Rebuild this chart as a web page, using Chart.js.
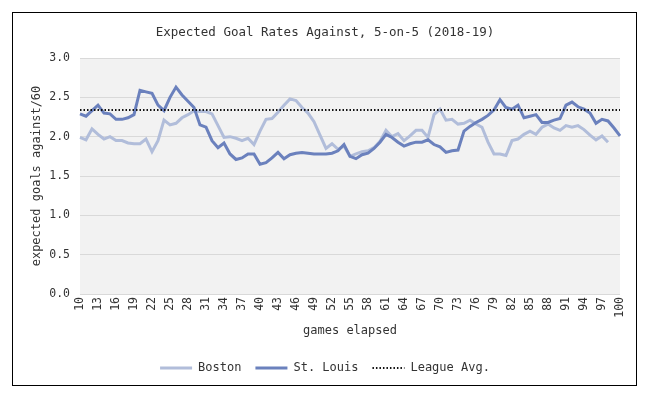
<!DOCTYPE html>
<html>
<head>
<meta charset="utf-8">
<title>Expected Goal Rates Against</title>
<script src="https://cdn.jsdelivr.net/npm/chart.js@4.4.1/dist/chart.umd.min.js"></script>
<style>
  html, body { margin: 0; padding: 0; background: #fff; }
  #wrap  { position: relative; width: 655px; height: 398px; }
  #frame { position: absolute; left: 12px; top: 12px; width: 623px; height: 372px;
           border: 1px solid #000; pointer-events: none; }
</style>
</head>
<body>
<div id="wrap">
  <canvas id="chartXga" width="655" height="398"></canvas>
  <div id="frame"></div>
</div>
<script>
/* ---- data ---- */
const games = [
  10, 11, 12, 13, 14, 15, 16, 17, 18, 19, 20, 21, 22, 23, 24, 25, 26, 27, 28, 29,
  30, 31, 32, 33, 34, 35, 36, 37, 38, 39, 40, 41, 42, 43, 44, 45, 46, 47, 48, 49,
  50, 51, 52, 53, 54, 55, 56, 57, 58, 59, 60, 61, 62, 63, 64, 65, 66, 67, 68, 69,
  70, 71, 72, 73, 74, 75, 76, 77, 78, 79, 80, 81, 82, 83, 84, 85, 86, 87, 88, 89,
  90, 91, 92, 93, 94, 95, 96, 97, 98, 99, 100
];

const xTickLabels = [10, 13, 16, 19, 22, 25, 28, 31, 34, 37, 40, 43, 46, 49, 52, 55,
  58, 61, 64, 67, 70, 73, 76, 79, 82, 85, 88, 91, 94, 97, 100];

// games 10..98
const boston = [
  1.99, 1.96, 2.10, 2.03, 1.97, 2.00, 1.95, 1.95, 1.92, 1.91,
  1.91, 1.97, 1.81, 1.95, 2.21, 2.15, 2.17, 2.24, 2.28, 2.33,
  2.32, 2.32, 2.29, 2.14, 1.99, 2.00, 1.98, 1.95, 1.98, 1.90,
  2.07, 2.22, 2.23, 2.31, 2.40, 2.48, 2.46, 2.37, 2.30, 2.19,
  2.02, 1.85, 1.91, 1.84, 1.88, 1.75, 1.78, 1.81, 1.82, 1.86,
  1.94, 2.08, 2.00, 2.04, 1.95, 2.01, 2.08, 2.08, 1.99, 2.28,
  2.35, 2.21, 2.22, 2.16, 2.17, 2.21, 2.16, 2.12, 1.93, 1.78,
  1.78, 1.76, 1.95, 1.97, 2.03, 2.07, 2.03, 2.12, 2.16, 2.11,
  2.08, 2.14, 2.12, 2.14, 2.09, 2.02, 1.96, 2.01, 1.93
];

// games 10..100
const stLouis = [
  2.29, 2.26, 2.33, 2.40, 2.30, 2.29, 2.22, 2.22, 2.24, 2.28,
  2.59, 2.57, 2.55, 2.40, 2.33, 2.50, 2.63, 2.53, 2.45, 2.37,
  2.15, 2.12, 1.95, 1.86, 1.92, 1.78, 1.71, 1.73, 1.78, 1.78,
  1.65, 1.67, 1.73, 1.80, 1.72, 1.77, 1.79, 1.80, 1.79, 1.78,
  1.78, 1.78, 1.79, 1.82, 1.90, 1.75, 1.72, 1.77, 1.79, 1.85,
  1.93, 2.03, 1.99, 1.93, 1.88, 1.91, 1.93, 1.93, 1.96, 1.90,
  1.87, 1.80, 1.82, 1.83, 2.07, 2.13, 2.18, 2.22, 2.27, 2.34,
  2.47, 2.37, 2.35, 2.40, 2.24, 2.26, 2.28, 2.18, 2.18, 2.21,
  2.23, 2.40, 2.44, 2.38, 2.35, 2.30, 2.17, 2.22, 2.20, 2.11,
  2.01
];

const leagueAvg = 2.34;

const yTicks = [0, 0.5, 1.0, 1.5, 2.0, 2.5, 3.0];

/* ---- styling ---- */
const FONT  = "'DejaVu Sans Mono', 'Liberation Mono', monospace";
const INK   = '#333333';
const BOS   = '#B1BDDA';
const STL   = '#6B81BD';

const plotBg = {
  id: 'plotBg',
  beforeDraw(chart) {
    const { ctx, chartArea: a } = chart;
    ctx.save();
    ctx.fillStyle = '#F2F2F2';
    ctx.fillRect(a.left, a.top, a.right - a.left, a.bottom - a.top);
    ctx.restore();
  }
};

// legend samples with point style lose the dash, put it back
function legendLabels(chart) {
  const items = Chart.defaults.plugins.legend.labels.generateLabels(chart);
  items.forEach(it => {
    const ds = chart.data.datasets[it.datasetIndex];
    it.lineDash  = ds.borderDash || [];
    it.lineWidth = ds.borderWidth;
  });
  return items;
}

const ctx = document.getElementById('chartXga').getContext('2d');

new Chart(ctx, {
  type: 'line',
  data: {
    labels: games,
    datasets: [
      {
        label          : 'Boston',
        data           : boston,
        borderColor    : BOS,
        backgroundColor: BOS,
        borderWidth    : 3,
        pointRadius    : 0,
        pointStyle     : 'line',
        order          : 3,
      },
      {
        label          : 'St. Louis',
        data           : stLouis,
        borderColor    : STL,
        backgroundColor: STL,
        borderWidth    : 3,
        pointRadius    : 0,
        pointStyle     : 'line',
        order          : 2,
      },
      {
        label          : 'League Avg.',
        data           : games.map(() => leagueAvg),
        borderColor    : '#111',
        backgroundColor: '#111',
        borderWidth    : 2,
        borderDash     : [1.5, 2],
        borderCapStyle : 'butt',
        pointRadius    : 0,
        pointStyle     : 'line',
        order          : 1,
      },
    ],
  },
  options: {
    responsive: false,
    animation: false,
    devicePixelRatio: 1,
    layout: { padding: { left: 30, right: 35, top: 25, bottom: 14 } },
    plugins: {
      title: {
        display: true,
        text: 'Expected Goal Rates Against, 5-on-5 (2018-19)',
        color: INK,
        font: { family: FONT, size: 12.5, weight: 'normal' },
        padding: { top: 0, bottom: 18 },
      },
      legend: {
        position: 'bottom',
        labels: {
          usePointStyle: true,
          pointStyleWidth: 32,
          color: INK,
          font: { family: FONT, size: 12 },
          padding: 14,
          generateLabels: legendLabels,
          sort: (a, b) => a.datasetIndex - b.datasetIndex,
        },
      },
      tooltip: { enabled: false },
    },
    scales: {
      x: {
        grid  : { display: false, drawTicks: false },
        border: { display: false },
        ticks : {
          autoSkip: false,
          minRotation: 90,
          maxRotation: 90,
          padding: 3,
          color: INK,
          font: { family: FONT, size: 11.5 },
          callback: (v, i) => xTickLabels.includes(games[i]) ? String(games[i]) : '',
        },
        title: {
          display: true,
          text: 'games elapsed',
          color: INK,
          font: { family: FONT, size: 12 },
          padding: { top: 4, bottom: 10 },
        },
        afterFit: s => { s.height = 54; },
      },
      y: {
        min: 0,
        max: 3,
        afterBuildTicks: s => { s.ticks = yTicks.map(v => ({ value: v })); },
        grid  : { color: '#D9D9D9', drawTicks: false, lineWidth: 1 },
        border: { display: false },
        ticks : {
          padding: 10,
          color: INK,
          font: { family: FONT, size: 11.5 },
          callback: v => Number(v).toFixed(1),
        },
        title: {
          display: true,
          text: 'expected goals against/60',
          color: INK,
          font: { family: FONT, size: 12 },
          padding: { top: 0, bottom: 4 },
        },
        afterFit: s => { s.width = 50; },
      },
    },
  },
  plugins: [plotBg],
});
</script>
</body>
</html>
